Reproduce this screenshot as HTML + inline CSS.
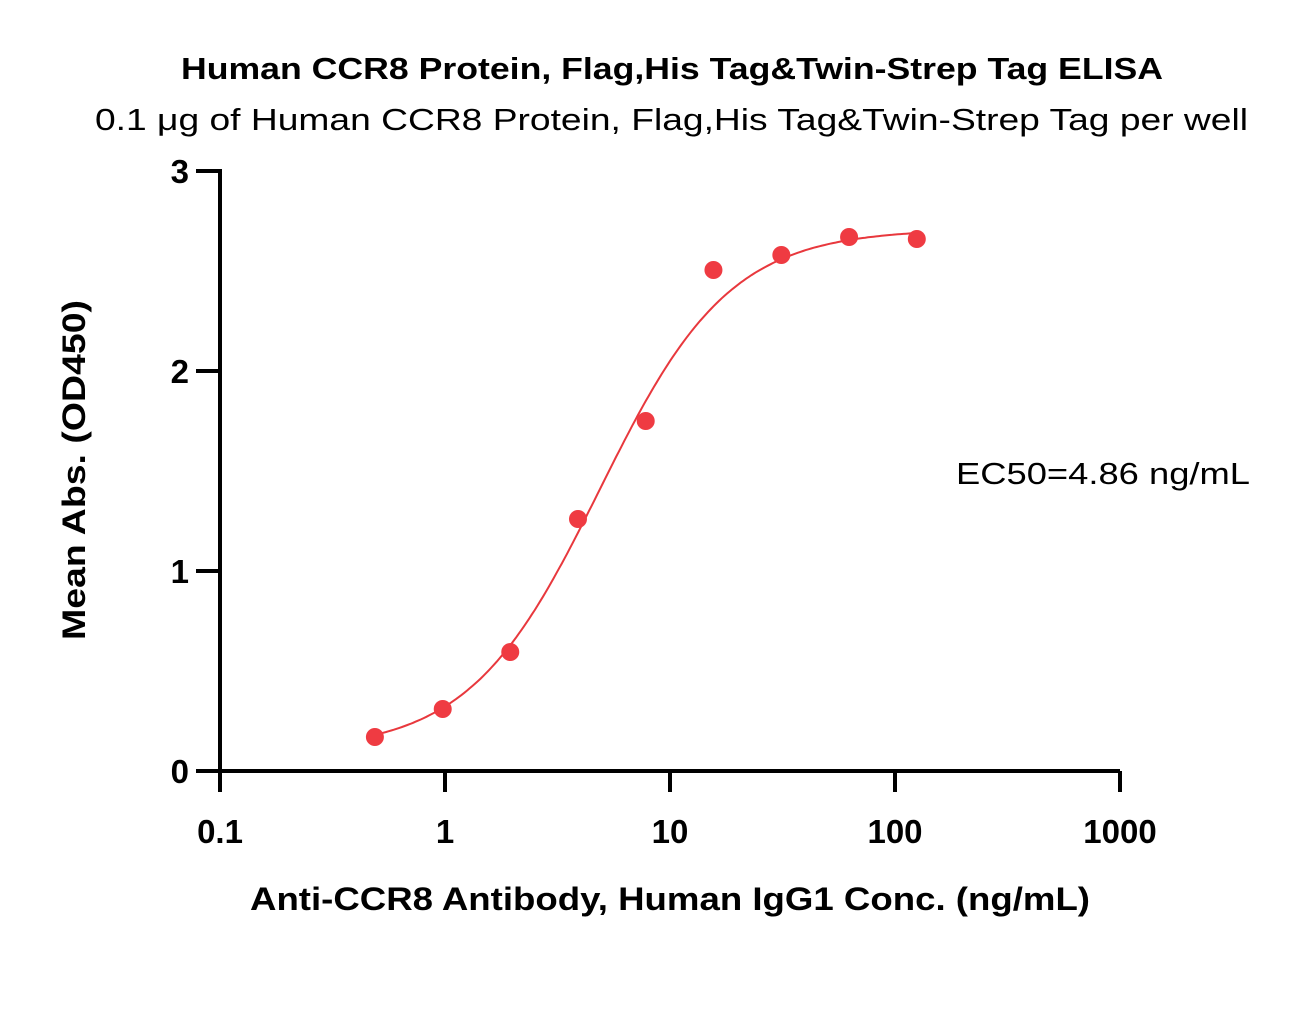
<!DOCTYPE html>
<html><head><meta charset="utf-8"><style>
body{margin:0;background:#fff;}
svg text{font-family:"Liberation Sans",Arial,sans-serif;}
</style></head><body>
<svg width="1295" height="1017" xmlns="http://www.w3.org/2000/svg">
<text x="181" y="79" textLength="982" lengthAdjust="spacingAndGlyphs" font-size="31" font-weight="bold">Human CCR8 Protein, Flag,His Tag&amp;Twin-Strep Tag ELISA</text>
<text x="95" y="130" textLength="1153" lengthAdjust="spacingAndGlyphs" font-size="31">0.1 μg of Human CCR8 Protein, Flag,His Tag&amp;Twin-Strep Tag per well</text>
<g id="axes"></g>
<g id="marks"></g>
<text x="956" y="484" textLength="294" lengthAdjust="spacingAndGlyphs" font-size="31">EC50=4.86 ng/mL</text>
<text x="250" y="910" textLength="840" lengthAdjust="spacingAndGlyphs" font-size="32" font-weight="bold">Anti-CCR8 Antibody, Human IgG1 Conc. (ng/mL)</text>
<text transform="translate(85,640) rotate(-90)" textLength="340" lengthAdjust="spacingAndGlyphs" font-size="32" font-weight="bold">Mean Abs. (OD450)</text>
</svg>
<script>
const xConc=[0.488,0.977,1.95,3.9,7.8,15.6,31.25,62.5,125];
const yOD=[0.17,0.31,0.595,1.26,1.75,2.505,2.58,2.67,2.66];
const xTicks=[0.1,1,10,100,1000];
const xTickLabels=["0.1","1","10","100","1000"];
const yTicks=[0,1,2,3];
const fitBottom=0.1, fitTop=2.71, fitEC50=4.86, fitHill=1.5;
const NS="http://www.w3.org/2000/svg";
const X=v=>220+(Math.log10(v)+1)*225;
const Y=v=>771-v*200;
const ax=document.getElementById('axes'), mk=document.getElementById('marks');
function el(t,a,p){const e=document.createElementNS(NS,t);for(const k in a)e.setAttribute(k,a[k]);p.appendChild(e);return e;}
let l=el('line',{x1:220,y1:771,x2:1120,y2:771,stroke:'#000','stroke-width':4},ax);


l=el('line',{x1:220,y1:169,x2:220,y2:773,stroke:'#000','stroke-width':4},ax);


xTicks.forEach((v,i)=>{
 const t=el('line',{x1:X(v),y1:771,x2:X(v),y2:792,stroke:'#000','stroke-width':4},ax);
 
 
 const tx=el('text',{x:X(v),y:843,'text-anchor':'middle','font-size':33,'font-weight':'bold'},ax);
 tx.textContent=xTickLabels[i];
 
 
});
yTicks.forEach(v=>{
 const t=el('line',{x1:196,y1:Y(v),x2:220,y2:Y(v),stroke:'#000','stroke-width':4},ax);
 
 
 const tx=el('text',{x:189,y:Y(v)+12,'text-anchor':'end','font-size':33,'font-weight':'bold'},ax);
 tx.textContent=String(v);
 
 
});
let d='';const lo=Math.log10(xConc[0]),hi=Math.log10(xConc[xConc.length-1]);
for(let i=0;i<=200;i++){const lx=lo+(hi-lo)*i/200,x=Math.pow(10,lx);
 const y=fitBottom+(fitTop-fitBottom)/(1+Math.pow(fitEC50/x,fitHill));
 d+=(i?'L':'M')+X(x).toFixed(1)+','+Y(y).toFixed(1);}
const c=el('path',{d:d,fill:'none',stroke:'#e8383d','stroke-width':2},mk);


xConc.forEach((v,i)=>{
 const p=el('circle',{cx:X(v),cy:Y(yOD[i]),r:9,fill:'#ef3b42'},mk);
 
 
});
</script>
</body></html>
